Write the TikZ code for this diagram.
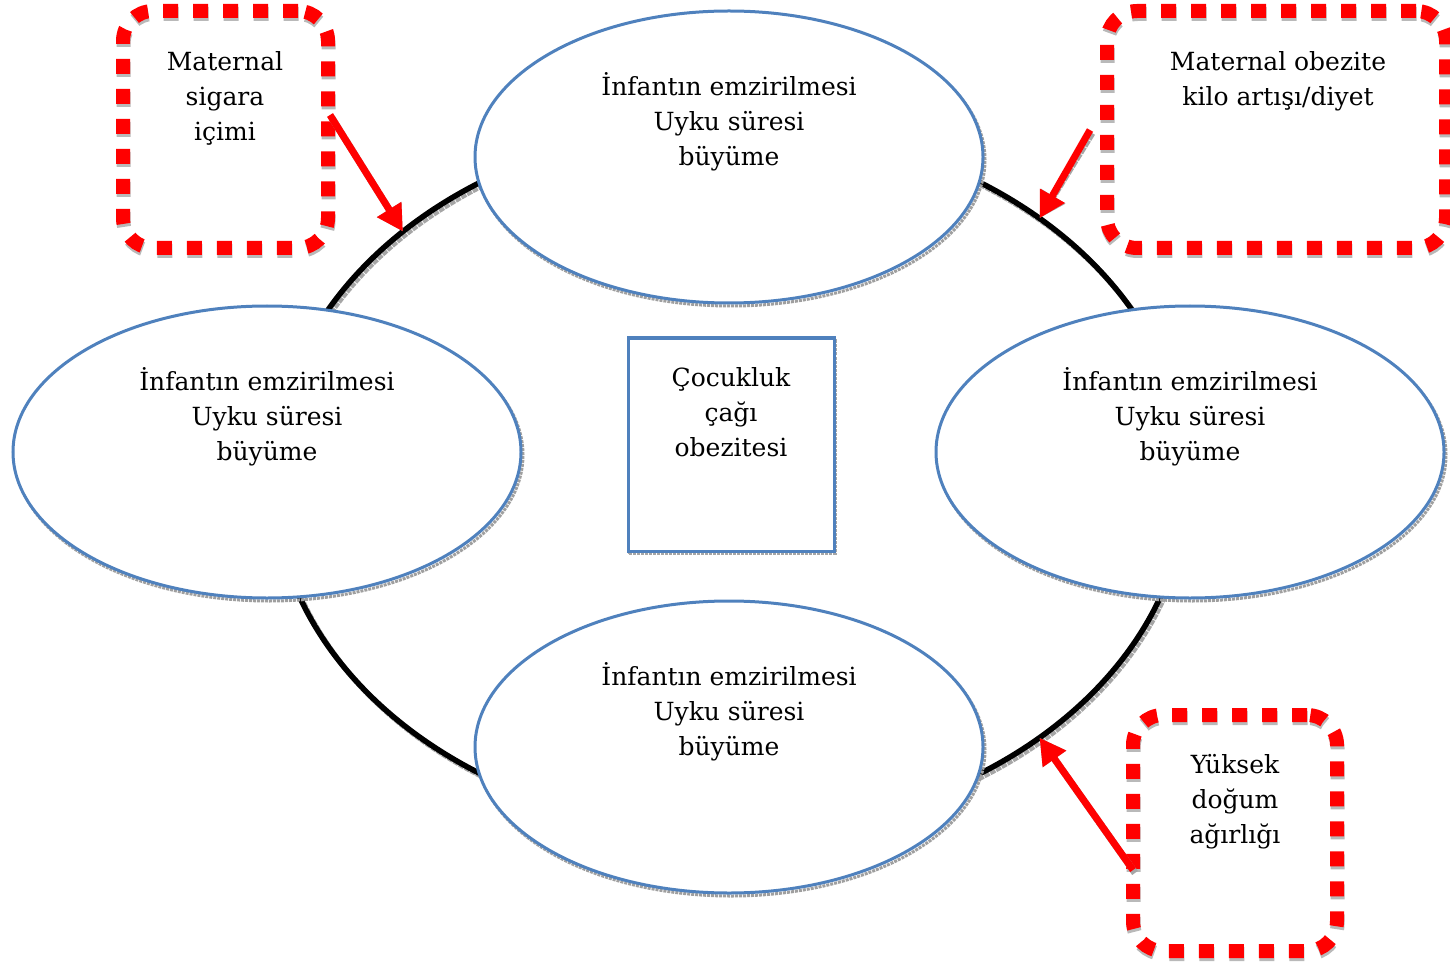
\documentclass[tikz,border=0pt]{standalone}
\usepackage{fontspec}
\setmainfont{DejaVu Serif}
\usetikzlibrary{shapes.geometric,arrows.meta}
\definecolor{bluec}{RGB}{79,129,189}
\begin{document}
\begin{tikzpicture}[x=1pt,y=-1pt,
  ringstyle/.style={ellipse, draw=black, line width=5.5pt, minimum width=914pt, minimum height=706pt, inner sep=0pt, outer sep=0pt},
  blueell/.style={ellipse, draw=bluec, line width=3pt, fill=white, minimum width=508pt, minimum height=292pt, inner sep=0pt, outer sep=0pt},
  shadowell/.style={ellipse, draw=gray!75, densely dotted, line width=3pt, minimum width=508pt, minimum height=292pt, inner sep=0pt, outer sep=0pt},
  txt/.style={align=center, font=\fontsize{25}{35}\selectfont, inner sep=0pt},
  redbox/.style={draw=red, line width=14pt, dash pattern=on 15pt off 15pt, rounded corners=30pt, inner sep=0pt, outer sep=0pt},
  redboxshadow/.style={draw=gray!55, line width=14pt, dash pattern=on 15pt off 15pt, rounded corners=30pt, inner sep=0pt, outer sep=0pt},
  redarrow/.style={draw=red, line width=7pt, -{Triangle[length=26pt, width=27pt]}},
  arrowshadow/.style={draw=gray!70, densely dotted, line width=7pt, -{Triangle[length=26pt, width=27pt]}},
]
\useasboundingbox (0,0) rectangle (1450,965);

% ring
\node[ringstyle, draw=gray!70, densely dotted] (rings) at (732.5,481) {};
\node[ringstyle] (ring) at (730,478) {};

% blue ellipses with shadows
\node[shadowell] (tops) at (731,160) {};
\node[blueell] (top) at (729,157) {};
\node[shadowell] (lefts) at (269,455) {};
\node[blueell] (left) at (267,452) {};
\node[shadowell] (rights) at (1192,455) {};
\node[blueell] (right) at (1190,452) {};
\node[shadowell] (bottoms) at (731,750) {};
\node[blueell] (bottom) at (729,747) {};

\node[txt] (toptext) at (729,122) {İnfantın emzirilmesi\\Uyku süresi\\büyüme};
\node[txt] (lefttext) at (267,417) {İnfantın emzirilmesi\\Uyku süresi\\büyüme};
\node[txt] (righttext) at (1190,417) {İnfantın emzirilmesi\\Uyku süresi\\büyüme};
\node[txt] (bottomtext) at (729,712) {İnfantın emzirilmesi\\Uyku süresi\\büyüme};

% center box
\node[draw=gray!70, densely dotted, line width=3pt, minimum width=206pt, minimum height=213pt, inner sep=0pt, outer sep=0pt] (centers) at (732,447) {};
\node[draw=bluec, line width=3pt, fill=white, minimum width=206pt, minimum height=213pt, inner sep=0pt, outer sep=0pt] (center) at (731,444.5) {};
\node[txt] (centertext) at (731,412) {Çocukluk\\çağı\\obezitesi};

% red dotted boxes
\node[redboxshadow, minimum width=205pt, minimum height=237pt] (box1s) at (226,132.5) {};
\node[redbox, minimum width=205pt, minimum height=237pt] (box1) at (225.5,129.5) {};
\node[txt] (box1text) at (225,98) {Maternal\\sigara\\içimi};

\node[redboxshadow, minimum width=339pt, minimum height=237pt] (box2s) at (1277,132.5) {};
\node[redbox, minimum width=339pt, minimum height=237pt] (box2) at (1276.5,129.5) {};
\node[txt] (box2text) at (1278,81) {Maternal obezite\\kilo artışı/diyet};

\node[redboxshadow, minimum width=204pt, minimum height=236pt] (box3s) at (1235.5,836) {};
\node[redbox, minimum width=204pt, minimum height=236pt] (box3) at (1235,833) {};
\node[txt] (box3text) at (1235,802) {Yüksek\\doğum\\ağırlığı};

% arrows
\coordinate (a1s) at (330,115);
\coordinate (a2s) at (1090,130);
\coordinate (a3s) at (1133,870);
\coordinate (a1ss) at (332,118);
\coordinate (a2ss) at (1092,133);
\coordinate (a3ss) at (1135,873);
\coordinate (a1e) at (ring.143.4);
\coordinate (a2e) at (ring.40.5);
\coordinate (a3e) at (ring.-40.9);
\draw[arrowshadow, shift={(2,3)}] (a1ss) -- (a1e);
\draw[arrowshadow, shift={(2,3)}] (a2ss) -- (a2e);
\draw[arrowshadow, shift={(2,3)}] (a3ss) -- (a3e);
\draw[redarrow] (a1s) -- (a1e);
\draw[redarrow] (a2s) -- (a2e);
\draw[redarrow] (a3s) -- (a3e);
\end{tikzpicture}
\end{document}
